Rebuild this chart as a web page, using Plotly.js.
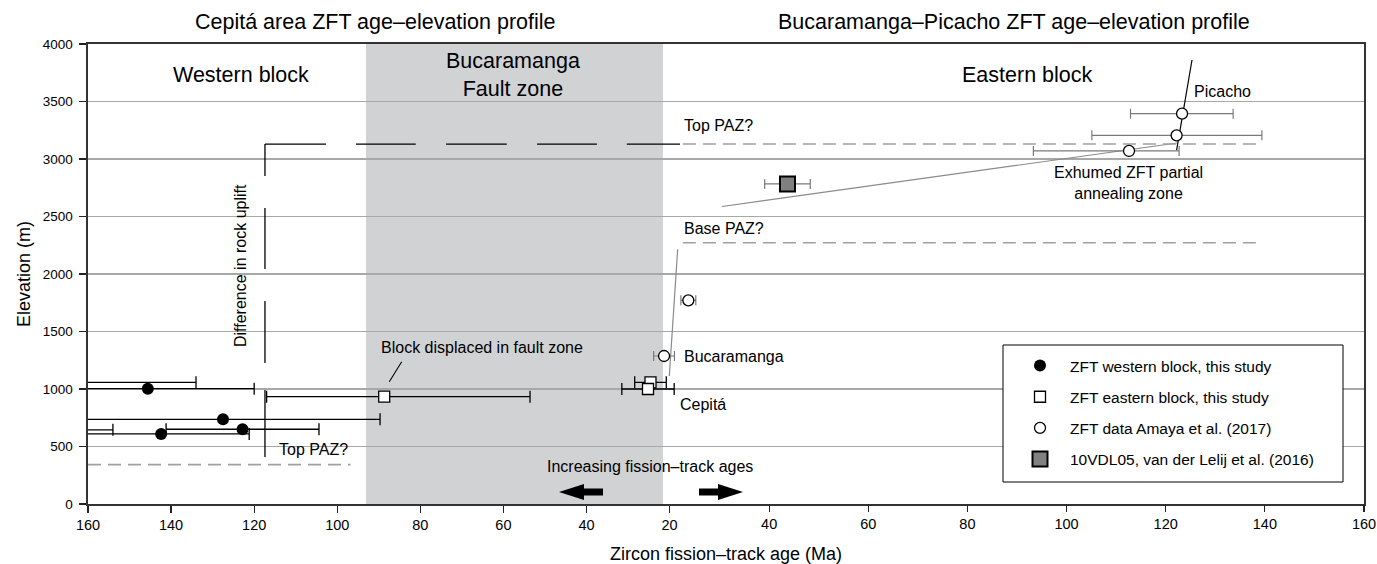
<!DOCTYPE html>
<html><head><meta charset="utf-8">
<script src="https://cdn.plot.ly/plotly-3.0.1.min.js"></script>
<style>html,body{margin:0;padding:0;background:#fff}#chart{width:1377px;height:564px}</style>
</head><body><div id="chart"></div>
<script>
// ---------- data ----------
// Western block, this study (left, reversed age axis)
const ageWest  = [145.6, 127.5, 122.8, 142.4, 168, 172];
const elevWest = [1003, 736, 650, 609, 1058, 645];
const errWest  = [25.6, 37.8, 18.4, 21.2, 34, 18];
// Eastern block, this study (left axis)
const ageEast  = [88.7, 24.6, 25.2];
const elevEast = [933, 1058, 1000];
const errEastOlder   = [28.3, 3.8, 6.3];
const errEastYounger = [35.1, 3.8, 6.3];
// Amaya et al. (2017) (right axis)
const ageAmaya  = [23.7, 18.8, 123.3, 122.2, 112.6];
const elevAmaya = [1771, 1287, 3394, 3206, 3070];
const errAmayaPlus  = [1.5, 2.1, 10.3, 17.2, 10.1];
const errAmayaMinus = [1.5, 2.1, 10.4, 17.1, 19.3];
// van der Lelij et al. (2016)
const ageVdl  = [43.7];
const elevVdl = [2783];
const errVdl  = [4.6];
// guide lines
const bucLineAge = [19.86, 21.55], bucLineElev = [1113, 2215];
const pazLineAge = [30.5, 122.3],  pazLineElev = [2587, 3139];
const picLineAge = [122.2, 125.3], picLineElev = [3078, 3861];
const topPazRightAge = [22.6, 138.4], topPazElev = 3130;
const basePazAge = [22.6, 138.4], basePazElev = 2272;
const topPazLeftAge = [160, 96.8], topPazLeftElev = 342;
const faultZoneAge = [93.1, 21.6];
// stepped dashed outline (left axis)
const upliftAge  = [117.4,102.7,null, 95.5,81.1,null, 73.8,59.2,null, 51.9,37.5,null, 30.3,17.5,null,
                    117.4,117.4,null, 117.4,117.4,null, 117.4,117.4,null, 117.4,117.4];
const upliftElev = [3130,3130,null, 3130,3130,null, 3130,3130,null, 3130,3130,null, 3130,3130,null,
                    3130,2852,null, 2574,2043,null, 1765,1226,null, 991,409];
const leftTicks  = [160,140,120,100,80,60,40,20];
const rightTicks = [40,60,80,100,120,140,160];
const yTicks = [0,500,1000,1500,2000,2500,3000,3500,4000];

// ---------- geometry helpers ----------
const W = 1377, H = 564, L = 88, R = 1364, T = 44, B = 504;
const px = x => (x - L) / (R - L);
const py = y => (B - y) / (B - T);
const FONT = '"Liberation Sans", Arial, sans-serif';
const NARROW = '"Liberation Sans Narrow", "Arial Narrow", "Liberation Sans", Arial, sans-serif';

// left axis: 160 at x=88, 20 at x=669.6 ; right axis: 20 at 670, 160 at 1364
const sL = (669.6 - L) / 140;
const leftRange = [160, 160 - (R - L) / sL];
const sR = (R - 670) / 140;
const rightRange = [20 - (670 - L) / sR, 160];

const gray = '#808080';
const traces = [
  {x: bucLineAge, y: bucLineElev, xaxis: 'x2', mode: 'lines', line: {color: '#8a8a8a', width: 1.2}, showlegend: false, hoverinfo: 'skip'},
  {x: pazLineAge, y: pazLineElev, xaxis: 'x2', mode: 'lines', line: {color: '#8a8a8a', width: 1.2}, showlegend: false, hoverinfo: 'skip'},
  {x: picLineAge, y: picLineElev, xaxis: 'x2', mode: 'lines', line: {color: '#000', width: 1.2}, showlegend: false, hoverinfo: 'skip'},
  {x: topPazRightAge, y: [topPazElev, topPazElev], xaxis: 'x2', mode: 'lines', line: {color: '#a0a0a0', width: 1.6, dash: '13px,7px'}, showlegend: false, hoverinfo: 'skip'},
  {x: basePazAge, y: [basePazElev, basePazElev], xaxis: 'x2', mode: 'lines', line: {color: '#a0a0a0', width: 1.6, dash: '13px,7px'}, showlegend: false, hoverinfo: 'skip'},
  {x: topPazLeftAge, y: [topPazLeftElev, topPazLeftElev], xaxis: 'x', mode: 'lines', line: {color: '#a0a0a0', width: 1.6, dash: '13px,7px'}, showlegend: false, hoverinfo: 'skip'},
  {x: upliftAge, y: upliftElev, xaxis: 'x', mode: 'lines', line: {color: '#000', width: 1.3}, connectgaps: false, showlegend: false, hoverinfo: 'skip'},
  {name: 'ZFT western block, this study', legendgroup: 'a', x: ageWest, y: elevWest, xaxis: 'x', mode: 'markers',
   marker: {symbol: 'circle', size: 12, color: '#000'},
   error_x: {type: 'data', array: errWest, color: '#000', thickness: 1.3, width: 6}},
  {name: 'ZFT eastern block, this study', legendgroup: 'b', x: ageEast, y: elevEast, xaxis: 'x', mode: 'markers',
   marker: {symbol: 'square', size: 11, color: '#fff', line: {color: '#000', width: 1.3}},
   error_x: {type: 'data', symmetric: false, array: errEastOlder, arrayminus: errEastYounger, color: '#000', thickness: 1.3, width: 6}},
  {name: 'ZFT data Amaya et al. (2017)', legendgroup: 'c', x: ageAmaya, y: elevAmaya, xaxis: 'x2', mode: 'markers',
   marker: {symbol: 'circle', size: 11, color: '#fff', line: {color: '#000', width: 1.3}},
   error_x: {type: 'data', symmetric: false, array: errAmayaPlus, arrayminus: errAmayaMinus, color: '#7a7a7a', thickness: 1.2, width: 5}},
  {name: '10VDL05, van der Lelij et al. (2016)', legendgroup: 'd', x: ageVdl, y: elevVdl, xaxis: 'x2', mode: 'markers',
   marker: {symbol: 'square', size: 15, color: gray, line: {color: '#000', width: 2}},
   error_x: {type: 'data', array: errVdl, color: '#7a7a7a', thickness: 1.2, width: 5}}
];

function txt(text, x, y, size, xanchor, extra) {
  return Object.assign({text: text, xref: 'paper', yref: 'paper', x: px(x), y: py(y), xanchor: xanchor || 'center', yanchor: 'middle',
    showarrow: false, font: {family: FONT, size: size, color: '#000'}}, extra || {});
}
const BIG = 21.5, SMALL = 16;
const annotations = [
  txt('Cepitá area ZFT age–elevation profile', 375, 22, BIG),
  txt('Bucaramanga–Picacho ZFT age–elevation profile', 1014, 22, BIG),
  txt('Western block', 241, 75, BIG),
  txt('Bucaramanga<br>Fault zone', 513, 75, BIG),
  txt('Eastern block', 1027, 75, BIG),
  txt('Picacho', 1192, 92, SMALL, 'left'),
  txt('Top PAZ?', 682, 126, SMALL, 'left'),
  txt('Exhumed ZFT partial<br>annealing zone', 1128, 183, SMALL),
  txt('Base PAZ?', 682, 228, SMALL, 'left'),
  txt('Bucaramanga', 682, 356, SMALL, 'left'),
  txt('Cepitá', 678, 404, SMALL, 'left'),
  txt('Block displaced in fault zone', 379, 347, SMALL, 'left'),
  txt('Top PAZ?', 277, 449, SMALL, 'left'),
  txt('Increasing fission–track ages', 650, 466, SMALL),
  txt('Difference in rock uplift', 240, 266, SMALL, 'center', {textangle: -90})
];

const arrowR = 'M0,-3.5 L19,-3.5 L19,-8 L44,0 L19,8 L19,3.5 L0,3.5 Z';
const arrowL = 'M0,-3.5 L-19,-3.5 L-19,-8 L-44,0 L-19,8 L-19,3.5 L0,3.5 Z';
const shapes = [
  {type: 'rect', xref: 'x', yref: 'paper', x0: faultZoneAge[0], x1: faultZoneAge[1], y0: 0, y1: 1,
   fillcolor: '#d1d2d4', line: {width: 0}, layer: 'below'},
  {type: 'line', xref: 'paper', yref: 'paper', x0: px(401.7), y0: py(361.7), x1: px(389.3), y1: py(381.7), line: {color: '#000', width: 1.1}},
  {type: 'path', xref: 'paper', yref: 'paper', xsizemode: 'pixel', ysizemode: 'pixel', xanchor: px(603), yanchor: py(492),
   path: arrowL, fillcolor: '#000', line: {width: 0}},
  {type: 'path', xref: 'paper', yref: 'paper', xsizemode: 'pixel', ysizemode: 'pixel', xanchor: px(699), yanchor: py(492),
   path: arrowR, fillcolor: '#000', line: {width: 0}},
  {type: 'rect', xref: 'paper', yref: 'paper', x0: px(1003), x1: px(1343), y0: py(345), y1: py(482),
   fillcolor: '#fff', line: {color: '#000', width: 1}, layer: 'above'}
];

const tickFont = {family: NARROW, size: 14.5, color: '#000'};
const layout = {
  width: W, height: H,
  margin: {l: L, r: W - R, t: T, b: H - B, pad: 0},
  paper_bgcolor: '#fff', plot_bgcolor: '#fff',
  showlegend: true,
  legend: {x: px(1010), y: py(349), xanchor: 'left', yanchor: 'top', bgcolor: 'rgba(0,0,0,0)', borderwidth: 0,
    itemwidth: 50,
    font: {family: FONT, size: 15.5, color: '#000'}, traceorder: 'grouped', tracegroupgap: 8},
  xaxis: {domain: [0, 1], range: leftRange, tickmode: 'array', tickvals: leftTicks, ticktext: leftTicks.map(String),
    ticks: 'outside', ticklen: 7, tickwidth: 1.2, tickcolor: '#222', tickfont: tickFont,
    showline: true, mirror: true, linecolor: '#333', linewidth: 1.6, showgrid: false, zeroline: false,
    title: {text: 'Zircon fission–track age (Ma)', font: {family: FONT, size: 18, color: '#000'}, standoff: 16}},
  xaxis2: {overlaying: 'x', anchor: 'y', side: 'bottom', range: rightRange, tickmode: 'array', tickvals: rightTicks,
    ticktext: rightTicks.map(String), ticks: 'outside', ticklen: 7, tickwidth: 1.2, tickcolor: '#222', tickfont: tickFont,
    showline: false, showgrid: false, zeroline: false},
  yaxis: {range: [0, 4000], tickmode: 'array', tickvals: yTicks, ticks: 'outside', ticklen: 7, tickwidth: 1.2, tickcolor: '#222',
    tickfont: {family: NARROW, size: 13.5, color: '#000'}, ticklabelstandoff: 4,
    showline: true, mirror: true, linecolor: '#333', linewidth: 1.6,
    showgrid: true, gridcolor: '#a8a8a8', gridwidth: 1.2, zeroline: false,
    title: {text: 'Elevation (m)', font: {family: FONT, size: 18, color: '#000'}, standoff: 7}},
  shapes: shapes,
  annotations: annotations
};
Plotly.newPlot('chart', traces, layout, {staticPlot: true, displayModeBar: false});
</script></body></html>
